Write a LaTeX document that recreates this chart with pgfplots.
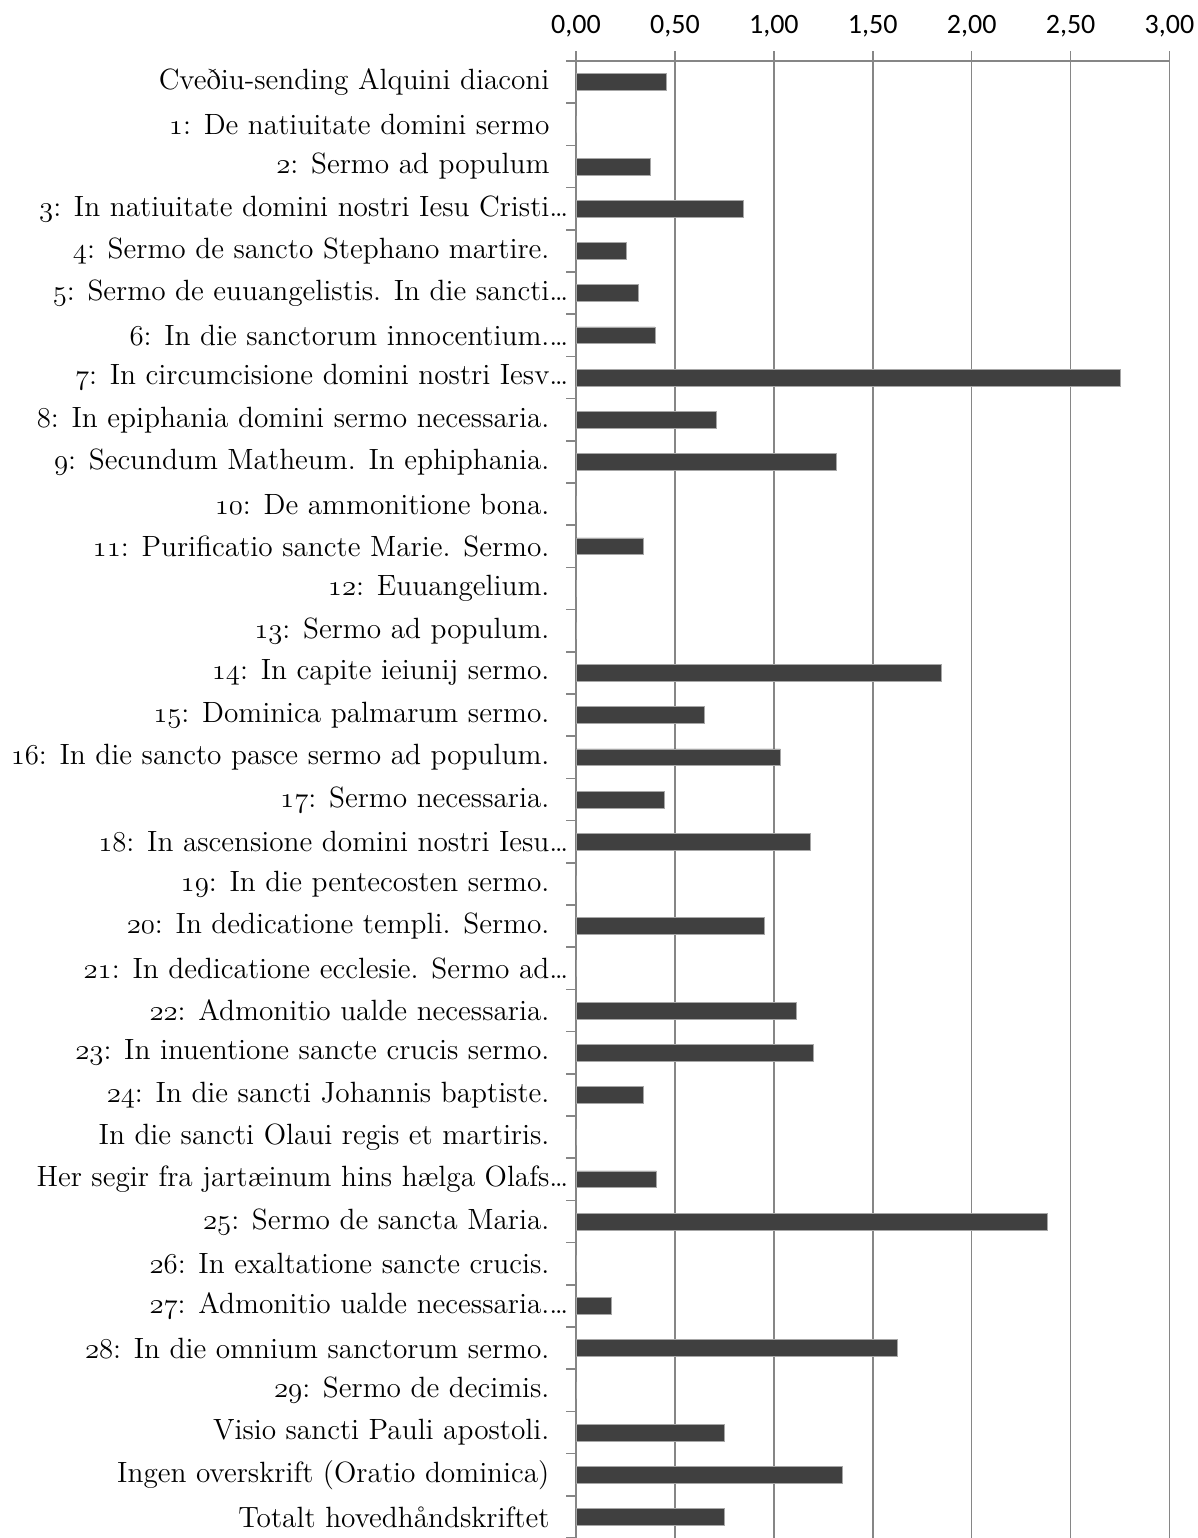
\documentclass[border=0pt]{standalone}
\usepackage{fontspec}
\usepackage{pgfplots}
\pgfplotsset{compat=1.18}
\newfontfamily\carlito{Carlito}
\newcommand\os[1]{{\fontencoding{OML}\fontfamily{cmm}\fontseries{m}\fontshape{it}\selectfont #1}}
\newcommand\E{\rlap{\ldots}}
\definecolor{barc}{HTML}{404040}
\definecolor{gridc}{HTML}{868686}
\begin{document}
\begin{tikzpicture}
\begin{axis}[
  name=ax,
  scale only axis,
  width=296.75pt, height=738.5pt,
  xbar, bar width=8.35pt,
  xmin=0, xmax=3,
  ymin=-0.5, ymax=34.5,
  y dir=reverse,
  enlargelimits=false,
  axis x line*=top, axis y line*=left,
  axis line style={gridc, line width=0.75pt},
  tick align=outside,
  major tick length=4.75pt, minor tick length=4.75pt,
  xtick={0,0.5,...,3},
  xmajorgrids,
  major x grid style={gridc, line width=0.75pt},
  major x tick style={gridc, line width=0.75pt},
  ytick={0,...,34},
  major y tick style={draw=none},
  minor ytick={-0.5,0.5,...,34.5},
  minor y tick style={gridc, line width=0.75pt},
  xticklabel style={font=\carlito\fontsize{14}{16}\selectfont, yshift=3.5pt,
    /pgf/number format/.cd, fixed, fixed zerofill, precision=2, use comma, assume math mode=true},
  yticklabel style={font=\fontsize{14.65}{17}\selectfont, anchor=east, xshift=-5pt},
  yticklabels={
    {Cveðiu-sending Alquini diaconi},
    {\os{1}: De natiuitate domini sermo},
    {\os{2}: Sermo ad populum},
    {\os{3}: In natiuitate domini nostri Iesu Cristi\E},
    {\os{4}: Sermo de sancto Stephano martire.},
    {\os{5}: Sermo de euuangelistis. In die sancti\E},
    {\os{6}: In die sanctorum innocentium.\E},
    {\os{7}: In circumcisione domini nostri Iesv\E},
    {\os{8}: In epiphania domini sermo necessaria.},
    {\os{9}: Secundum Matheum. In ephiphania.},
    {\os{10}: De ammonitione bona.},
    {\os{11}: Purificatio sancte Marie. Sermo.},
    {\os{12}: Euuangelium.},
    {\os{13}: Sermo ad populum.},
    {\os{14}: In capite ieiunij sermo.},
    {\os{15}: Dominica palmarum sermo.},
    {\os{16}: In die sancto pasce sermo ad populum.},
    {\os{17}: Sermo necessaria.},
    {\os{18}: In ascensione domini nostri Iesu\E},
    {\os{19}: In die pentecosten sermo.},
    {\os{20}: In dedicatione templi. Sermo.},
    {\os{21}: In dedicatione ecclesie. Sermo ad\E},
    {\os{22}: Admonitio ualde necessaria.},
    {\os{23}: In inuentione sancte crucis sermo.},
    {\os{24}: In die sancti Johannis baptiste.},
    {In die sancti Olaui regis et martiris.},
    {Her segir fra jartæinum hins hælga Olafs\E},
    {\os{25}: Sermo de sancta Maria.},
    {\os{26}: In exaltatione sancte crucis.},
    {\os{27}: Admonitio ualde necessaria.\E},
    {\os{28}: In die omnium sanctorum sermo.},
    {\os{29}: Sermo de decimis.},
    {Visio sancti Pauli apostoli.},
    {Ingen overskrift (Oratio dominica)},
    {Totalt hovedhåndskriftet}
  },
]
\addplot[fill=barc, draw=gray!70, line width=0.3pt] coordinates {
  (0.457,0) (0,1) (0.375,2) (0.848,3) (0.252,4) (0.315,5) (0.399,6)
  (2.750,7) (0.708,8) (1.316,9) (0,10) (0.341,11) (0,12) (0,13)
  (1.846,14) (0.648,15) (1.033,16) (0.447,17) (1.184,18) (0,19)
  (0.950,20) (0,21) (1.113,22) (1.202,23) (0.341,24) (0,25) (0.406,26)
  (2.380,27) (0,28) (0.176,29) (1.622,30) (0,31) (0.751,32) (1.347,33) (0.751,34)
};
\end{axis}
\pgfresetboundingbox
\path[use as bounding box] ([xshift=-288pt]ax.south west) rectangle ([xshift=13.75pt,yshift=30.5pt]ax.north east);
\end{tikzpicture}
\end{document}
